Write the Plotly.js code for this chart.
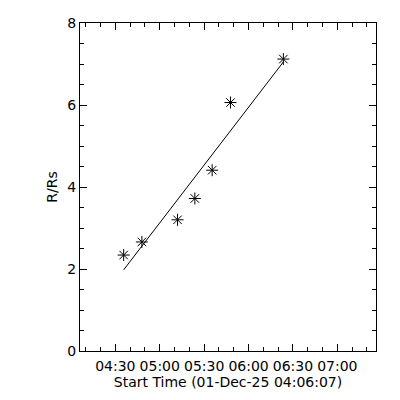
<!DOCTYPE html>
<html>
<head>
<meta charset="utf-8">
<script src="https://cdn.plot.ly/plotly-3.0.1.min.js"></script>
<style>html,body{margin:0;padding:0;background:#fff;}#chart{width:400px;height:400px;}</style>
</head>
<body>
<div id="chart"></div>
<script>
// Observed points (time, R/Rs)
var obsTimes = ['2025-12-01 04:35:37','2025-12-01 04:47:55','2025-12-01 05:12:01','2025-12-01 05:23:43','2025-12-01 05:35:25','2025-12-01 05:47:49','2025-12-01 06:23:31'];
var obsR = [2.34, 2.66, 3.20, 3.72, 4.41, 6.06, 7.12];
// Fit line endpoints
var fitTimes = ['2025-12-01 04:35:37','2025-12-01 06:23:31'];
var fitR = [1.98, 7.05];
var xRange = ['2025-12-01 04:06:07','2025-12-01 07:26:07'];
var yRange = [0, 8];
var xTitle = 'Start Time (01-Dec-25 04:06:07)';
var yTitle = 'R/Rs';

var font = {family: 'DejaVu Sans, sans-serif', size: 14, color: '#000'};

var traces = [
  {x: fitTimes, y: fitR, mode: 'lines', type: 'scatter',
   line: {color: '#000', width: 1}, hoverinfo: 'skip'},
  {x: obsTimes, y: obsR, mode: 'markers', type: 'scatter',
   marker: {symbol: 'asterisk-open', size: 10, color: '#000', line: {color: '#000', width: 1}}}
];

var layout = {
  width: 400, height: 400,
  margin: {l: 80, r: 24, t: 23, b: 49, pad: 0},
  paper_bgcolor: '#fff', plot_bgcolor: '#fff',
  showlegend: false,
  font: font,
  xaxis: {
    type: 'date', range: xRange,
    tick0: '2025-12-01 04:00:00', dtick: 1800000, tickformat: '%H:%M',
    ticks: 'inside', ticklen: 7, tickwidth: 1, tickcolor: '#000',
    minor: {dtick: 600000, ticks: 'inside', ticklen: 4, tickwidth: 1, tickcolor: '#000', showgrid: false},
    showline: true, linecolor: '#000', linewidth: 1, mirror: 'allticks',
    showgrid: false, zeroline: false,
    tickfont: font, ticklabelstandoff: 2,
    title: {text: xTitle, font: font, standoff: 3}
  },
  yaxis: {
    range: yRange, tick0: 0, dtick: 2,
    ticks: 'inside', ticklen: 7, tickwidth: 1, tickcolor: '#000',
    minor: {dtick: 0.5, ticks: 'inside', ticklen: 4, tickwidth: 1, tickcolor: '#000', showgrid: false},
    showline: true, linecolor: '#000', linewidth: 1, mirror: 'allticks',
    showgrid: false, zeroline: false,
    tickfont: font, ticklabelstandoff: 0,
    title: {text: yTitle, font: font, standoff: 6}
  }
};

Plotly.newPlot('chart', traces, layout, {staticPlot: true, displayModeBar: false});
</script>
</body>
</html>
